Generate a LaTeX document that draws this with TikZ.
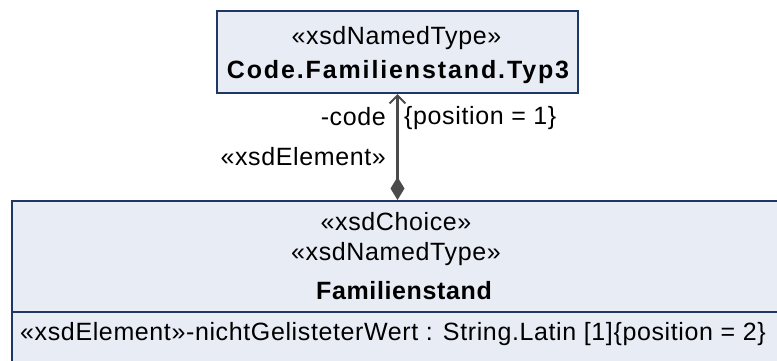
\documentclass[tikz,border=0pt]{standalone}
\usepackage{fontspec}
\setmainfont{Liberation Sans}[LetterSpace=2.5]
\usetikzlibrary{arrows.meta}
\definecolor{boxfill}{RGB}{232,236,245}
\definecolor{boxline}{RGB}{30,55,100}
\definecolor{assocline}{RGB}{75,75,75}
\tikzstyle{umlbox}=[draw=boxline, fill=boxfill, line width=2pt, inner sep=0pt]
\tikzstyle{umltext}=[inner sep=0pt, font=\fontsize{25}{29}\selectfont]
\tikzstyle{umlname}=[inner sep=0pt, font=\fontsize{25}{29}\selectfont\bfseries]
\tikzstyle{assoc}=[draw=assocline, line width=2.2pt,
    arrows={Diamond[fill=assocline, length=23pt, width=14pt]-Straight Barb[length=8pt, width=16pt, line width=2pt]}]

\begin{document}
\begin{tikzpicture}[x=1pt, y=-1pt]
    \useasboundingbox (0,0) rectangle (777,360);
    \clip (0,0) rectangle (777,360);

    % Code.Familienstand.Typ3
    \node[umlbox, anchor=north west, minimum width=361pt, minimum height=82pt] (codetyp) at (216,10) {};
    \node[umltext] (codestereo) at (396.5,38) {«xsdNamedType»};
    \node[umlname] (codename) at (398,72) {\addfontfeature{LetterSpace=7.5}Code.Familienstand.Typ3};

    % Familienstand
    \node[umlbox, anchor=north west, minimum width=800pt, minimum height=200pt] (fam) at (11,200) {};
    \coordinate (famsep) at (0,312);
    \draw[boxline, line width=1.5pt] (fam.west |- famsep) -- (fam.east |- famsep);
    \node[umltext] (famchoice) at (396,222) {«xsdChoice»};
    \node[umltext] (famstereo) at (396,254) {«xsdNamedType»};
    \node[umlname] (famname) at (404,291) {Familienstand};
    \node[umltext, anchor=west] (famattr) at (20,334)
        {«xsdElement»-nichtGelisteterWert : String.Latin [1]\{position = 2\}};

    % association
    \draw[assoc] (fam.north -| codetyp.south) -- (codetyp.south);
    \node[umltext, anchor=east] (rolename) at (386,117) {-code};
    \node[umltext, anchor=west] (roleprop) at (404,118) {\{position = 1\}};
    \node[umltext, anchor=east] (rolestereo) at (386,157) {«xsdElement»};
\end{tikzpicture}
\end{document}
